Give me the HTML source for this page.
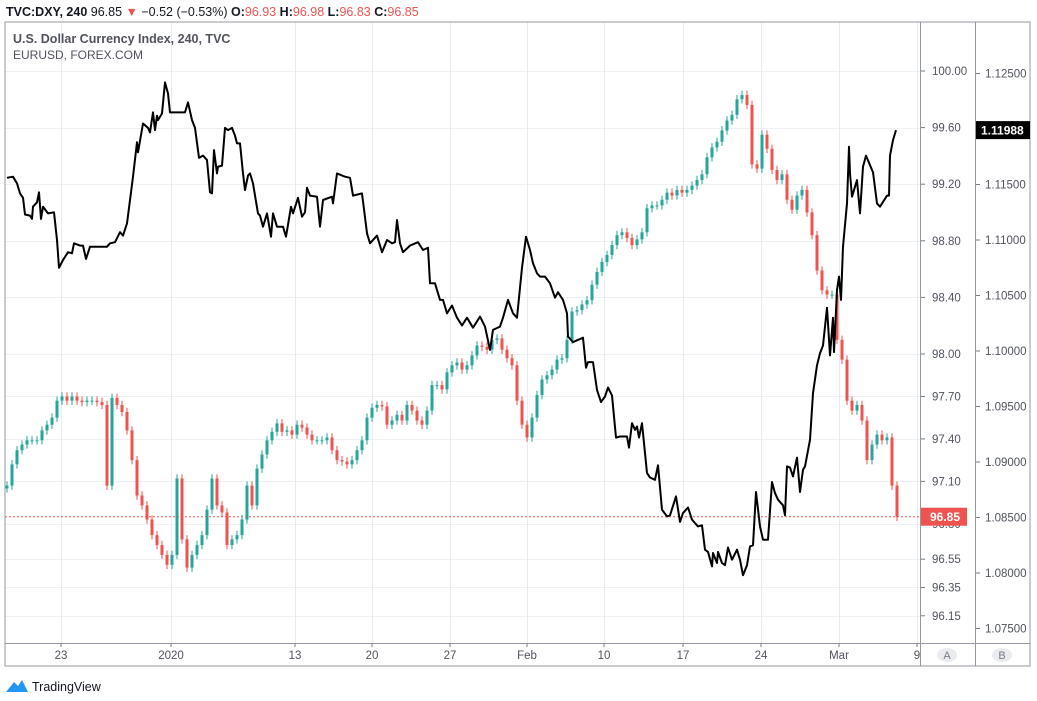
<!DOCTYPE html>
<html><head><meta charset="utf-8">
<style>
html,body{margin:0;padding:0;background:#fff;width:1037px;height:701px;overflow:hidden;font-family:"Liberation Sans",sans-serif}
svg text{font-family:"Liberation Sans",sans-serif}
</style></head>
<body>
<svg id="chart" width="1037" height="701" xmlns="http://www.w3.org/2000/svg">
  <g>
    <text x="6" y="16" font-size="12.5" fill="#131722"><tspan font-weight="bold">TVC:DXY, 240</tspan> 96.85 <tspan fill="#ef5350">▼</tspan> −0.52 (−0.53%) <tspan font-weight="bold">O:</tspan><tspan fill="#ef5350">96.93</tspan> <tspan font-weight="bold">H:</tspan><tspan fill="#ef5350">96.98</tspan> <tspan font-weight="bold">L:</tspan><tspan fill="#ef5350">96.83</tspan> <tspan font-weight="bold">C:</tspan><tspan fill="#ef5350">96.85</tspan></text>
  </g>
  <g id="grid"></g>
  <g id="frame">
    <rect x="5" y="22" width="1025" height="644" fill="none" stroke="#9598a1" stroke-width="1"/>
    <line x1="920.5" y1="22" x2="920.5" y2="666" stroke="#9598a1"/>
    <line x1="975.5" y1="22" x2="975.5" y2="666" stroke="#9598a1"/>
    <line x1="5" y1="643.5" x2="1030" y2="643.5" stroke="#9598a1"/>
  </g>
  <g>
    <text x="13" y="43" font-size="12.5" fill="#50535e" font-weight="bold">U.S. Dollar Currency Index, 240, TVC</text>
    <text x="13" y="59" font-size="12" fill="#50535e">EURUSD, FOREX.COM</text>
  </g>
  <g id="candles"></g>
  <path id="eurline" fill="none" stroke="#000" stroke-width="2" stroke-linejoin="round"/>
  <g id="axisA"></g>
  <g id="axisB"></g>
  <g id="xaxis"></g>
  <g>
    <ellipse cx="947" cy="655" rx="10" ry="7" fill="#e9ebee"/>
    <text x="947" y="659" font-size="11" fill="#787b86" text-anchor="middle">A</text>
    <ellipse cx="1002" cy="655" rx="10" ry="7" fill="#e9ebee"/>
    <text x="1002" y="659" font-size="11" fill="#787b86" text-anchor="middle">B</text>
  </g>
  <g>
    <path d="M6 692 L14 682 L18 686 L22 680 L28 692 Z" fill="#2196f3"/>
    <text x="32" y="691" font-size="12.5" fill="#131722">TradingView</text>
  </g>
</svg>
<script>
// DXY closes (4h bars)
const dxyCloses=[97.07,97.22,97.32,97.36,97.39,97.39,97.39,97.46,97.50,97.55,97.67,97.70,97.67,97.70,97.67,97.66,97.67,97.67,97.66,97.64,
97.07,97.69,97.64,97.59,97.46,97.25,97.00,96.93,96.83,96.72,96.65,96.58,96.51,96.58,97.12,96.69,96.49,96.58,96.65,96.72,
96.90,97.12,96.93,96.88,96.65,96.69,96.72,96.83,97.07,96.93,97.19,97.29,97.39,97.45,97.51,97.45,97.46,97.43,97.50,97.48,
97.43,97.39,97.39,97.39,97.41,97.32,97.25,97.24,97.22,97.25,97.32,97.39,97.55,97.62,97.64,97.63,97.50,97.53,97.57,97.53,
97.64,97.60,97.53,97.50,97.60,97.78,97.78,97.75,97.87,97.92,97.94,97.89,97.92,97.99,98.06,98.05,98.03,98.10,98.11,98.03,
97.97,97.92,97.67,97.50,97.41,97.55,97.71,97.82,97.85,97.89,97.96,97.97,98.10,98.30,98.31,98.35,98.38,98.49,98.58,98.65,
98.70,98.77,98.84,98.86,98.82,98.77,98.81,98.86,99.03,99.05,99.05,99.09,99.14,99.12,99.16,99.14,99.16,99.19,99.23,99.27,
99.39,99.46,99.50,99.58,99.65,99.69,99.80,99.83,99.76,99.34,99.31,99.55,99.45,99.30,99.23,99.27,99.09,99.02,99.12,99.16,
99.00,98.84,98.59,98.45,98.42,98.42,98.10,97.96,97.67,97.60,97.64,97.53,97.25,97.36,97.43,97.39,97.41,97.07,96.85];
const dxyFirstOpen=97.05;
// EURUSD line: bar-index times and values
const eurTimes=[0,1.2,2,2.6,3.2,3.6,4.6,5,5.2,6,6.4,6.8,7.2,8.2,9.4,10,10.4,11.2,12.2,13,13.4,14.6,15.2,15.8,16.6,20,20.6,21.6,22.6,23.2,24,25.2,26,26.2,27.2,28.2,28.6,29.2,29.6,30,30.2,31,31.6,32.2,32.6,35.6,36.2,37,37.6,38.4,39.2,40,40.6,41,41.4,42,42.2,43,43.6,44.2,45,45.6,46,46.6,47.2,47.6,48.2,48.6,49.2,50.2,50.6,51.2,52,52.8,53.2,54,55.2,55.8,56.8,57.2,58.2,59,59.6,60,60.6,62,62.6,63.2,65,65.2,66,67.6,68.6,69.2,71,72,72.6,74,75,76,77,77.6,78,78.6,79.2,80.6,82.2,83.2,84.2,84.6,85.6,86.6,87.2,88,89,90,91,92,93.2,94.6,95.6,96.6,97.2,98.6,99.2,100.2,101.2,102,103,103.8,104.6,105.2,106,106.6,107.6,108.6,109.6,110.2,111.2,112,112.2,113.2,115.2,115.8,116.2,117.2,118,118.8,119.6,120.2,121,121.8,122.6,124,124.4,125,125.6,126,126.4,127,128,128.6,129.6,130.2,131,132,132.6,133.8,134.6,135.2,136.2,137,138.2,139,139.6,140.2,141,141.2,142,142.2,143,143.6,144.2,145,146,146.6,147.2,148,148.6,149.2,149.8,150.6,151.2,152.2,153,153.6,154.2,155.2,155.6,156,156.6,157.2,158,158.6,159.2,159.6,160.6,161.2,162,162.6,163.2,164,164.6,165.2,165.4,166,166.4,166.8,167.2,168,168.4,168.6,169,170,170.6,171.2,171.8,173.2,174,174.6,176,176.4,176.6,177.2,177.8];
const eurValues=[1.1156,1.1157,1.1151,1.1142,1.1138,1.1123,1.1122,1.1119,1.1130,1.1134,1.1143,1.1119,1.1130,1.1124,1.1125,1.1100,1.1075,1.1082,1.1089,1.1088,1.1097,1.1095,1.1095,1.1083,1.1094,1.1094,1.1097,1.1098,1.1107,1.1104,1.1115,1.1157,1.1188,1.1179,1.1205,1.1201,1.1197,1.1215,1.1199,1.1212,1.1208,1.1214,1.1242,1.1232,1.1215,1.1215,1.1224,1.1208,1.1201,1.1174,1.1176,1.1172,1.1143,1.1142,1.1181,1.1160,1.1166,1.1167,1.1201,1.1199,1.1201,1.1194,1.1187,1.1187,1.1160,1.1145,1.1158,1.1160,1.1151,1.1124,1.1122,1.1112,1.1124,1.1103,1.1124,1.1112,1.1112,1.1103,1.1130,1.1124,1.1138,1.1121,1.1125,1.1147,1.1140,1.1139,1.1112,1.1136,1.1139,1.1133,1.1160,1.1157,1.1156,1.1140,1.1142,1.1106,1.1097,1.1104,1.1089,1.1100,1.1097,1.1098,1.1118,1.1097,1.1089,1.1095,1.1098,1.1091,1.1093,1.1061,1.1061,1.1046,1.1046,1.1034,1.1041,1.1030,1.1023,1.1030,1.1021,1.1031,1.1022,1.1001,1.1019,1.1022,1.1030,1.1046,1.1034,1.1030,1.1075,1.1103,1.1091,1.1079,1.1070,1.1067,1.1067,1.1061,1.1048,1.1053,1.1046,1.1034,1.1013,1.1008,1.1012,1.0985,1.0990,1.0990,1.0965,1.0954,1.0959,1.0967,1.0960,1.0922,1.0923,1.0923,1.0913,1.0935,1.0929,1.0932,1.0922,1.0935,1.0890,1.0886,1.0884,1.0897,1.0857,1.0851,1.0852,1.0869,1.0846,1.0854,1.0859,1.0848,1.0842,1.0843,1.0821,1.0819,1.0806,1.0818,1.0809,1.0819,1.0809,1.0807,1.0823,1.0812,1.0821,1.0812,1.0798,1.0807,1.0824,1.0825,1.0873,1.0842,1.0830,1.0830,1.0882,1.0872,1.0866,1.0861,1.0852,1.0896,1.0895,1.0887,1.0904,1.0873,1.0893,1.0896,1.0920,1.0962,1.0987,1.0998,1.1005,1.1039,1.0996,1.1030,1.0999,1.1055,1.1067,1.1046,1.1094,1.1133,1.1184,1.1160,1.1139,1.1154,1.1124,1.1166,1.1176,1.1161,1.1133,1.1130,1.1140,1.1140,1.1176,1.1190,1.1199];
const dxyTicks=[100.00,99.60,99.20,98.80,98.40,98.00,97.70,97.40,97.10,96.80,96.55,96.35,96.15];
const eurTicks=[1.125,1.12,1.115,1.11,1.105,1.10,1.095,1.09,1.085,1.08,1.075];
const weekTimes=[10.8,32.8,57.6,73,88.6,104,119.4,135.2,150.8,166.4,182];
const weekLabels=["23","2020","13","20","27","Feb","10","17","24","Mar","9"];

const NS="http://www.w3.org/2000/svg";
const X0=7,BAR=5,PL=5,PR=920,PT=22,PB=643;
const xOf=t=>X0+t*BAR;
const yA=v=>354-(v-98)*141.5;
const yB=v=>351-(v-1.10)*11100;
function mk(tag,attrs,parent){const e=document.createElementNS(NS,tag);for(const k in attrs)e.setAttribute(k,attrs[k]);parent.appendChild(e);return e;}

const grid=document.getElementById('grid');
dxyTicks.forEach(v=>{const y=Math.round(yA(v))+.5;
  const l=mk('line',{x1:PL,x2:PR,y1:y,y2:y,stroke:'#edf1f5'},grid);
  
  });
weekTimes.forEach(t=>{const x=Math.round(xOf(t))+.5;
  const l=mk('line',{x1:x,x2:x,y1:PT,y2:PB,stroke:'#e6ecf1'},grid);
  
  });

// red last price line
const dl=mk('line',{x1:PL,x2:PR,y1:yA(96.85),y2:yA(96.85),stroke:'#ef5350','stroke-dasharray':'2,2'},grid);



const cg=document.getElementById('candles');
let prev=dxyFirstOpen;
dxyCloses.forEach((c,i)=>{
  const o=prev;prev=c;
  const up=c>=o;const col=up?'#26a69a':'#ef5350';
  const x=xOf(i);
  const hi=Math.max(o,c)+0.03,lo=Math.min(o,c)-0.03;
  const g=mk('g',{},cg);
  
  
  mk('line',{x1:x,x2:x,y1:yA(hi),y2:yA(lo),stroke:col,'stroke-width':1},g);
  const top=yA(Math.max(o,c)),bot=yA(Math.min(o,c));
  mk('rect',{x:x-1.5,y:top,width:3,height:Math.max(1,bot-top),fill:col},g);
});

let d='';
eurTimes.forEach((t,i)=>{d+=(i?'L':'M')+xOf(t).toFixed(1)+' '+yB(eurValues[i]).toFixed(1);});
document.getElementById('eurline').setAttribute('d',d);

const ax=document.getElementById('axisA');
dxyTicks.forEach(v=>{const y=yA(v);
  mk('line',{x1:921,x2:925,y1:y,y2:y,stroke:'#787b86'},ax);
  const t=mk('text',{x:932,y:y+4,'font-size':11.5,fill:'#50535e'},ax);t.textContent=v.toFixed(2);
  
  });
const rl=mk('rect',{x:921,y:yA(96.85)-9,width:46,height:18,fill:'#ef5350'},ax);


const rt=mk('text',{x:930,y:yA(96.85)+4.5,'font-size':12,fill:'#fff','font-weight':'bold'},ax);rt.textContent='96.85';

const bx=document.getElementById('axisB');
eurTicks.forEach(v=>{const y=yB(v);
  mk('line',{x1:976,x2:980,y1:y,y2:y,stroke:'#787b86'},bx);
  const t=mk('text',{x:985,y:y+4,'font-size':11.5,fill:'#50535e'},bx);t.textContent=v.toFixed(5);
  
  });
const lastE=eurValues[eurValues.length-1];
const bl=mk('rect',{x:976,y:yB(lastE)-9,width:54,height:18,fill:'#000'},bx);


const bt=mk('text',{x:981,y:yB(lastE)+4.5,'font-size':12,fill:'#fff','font-weight':'bold'},bx);bt.textContent='1.11988';

const xa=document.getElementById('xaxis');
weekTimes.forEach((t,i)=>{const x=xOf(t);
  mk('line',{x1:x,x2:x,y1:643,y2:647,stroke:'#787b86'},xa);
  const tx=mk('text',{x:x,y:659,'font-size':11.5,fill:'#50535e','text-anchor':'middle'},xa);tx.textContent=weekLabels[i];
  
  });
</script>
</body></html>
